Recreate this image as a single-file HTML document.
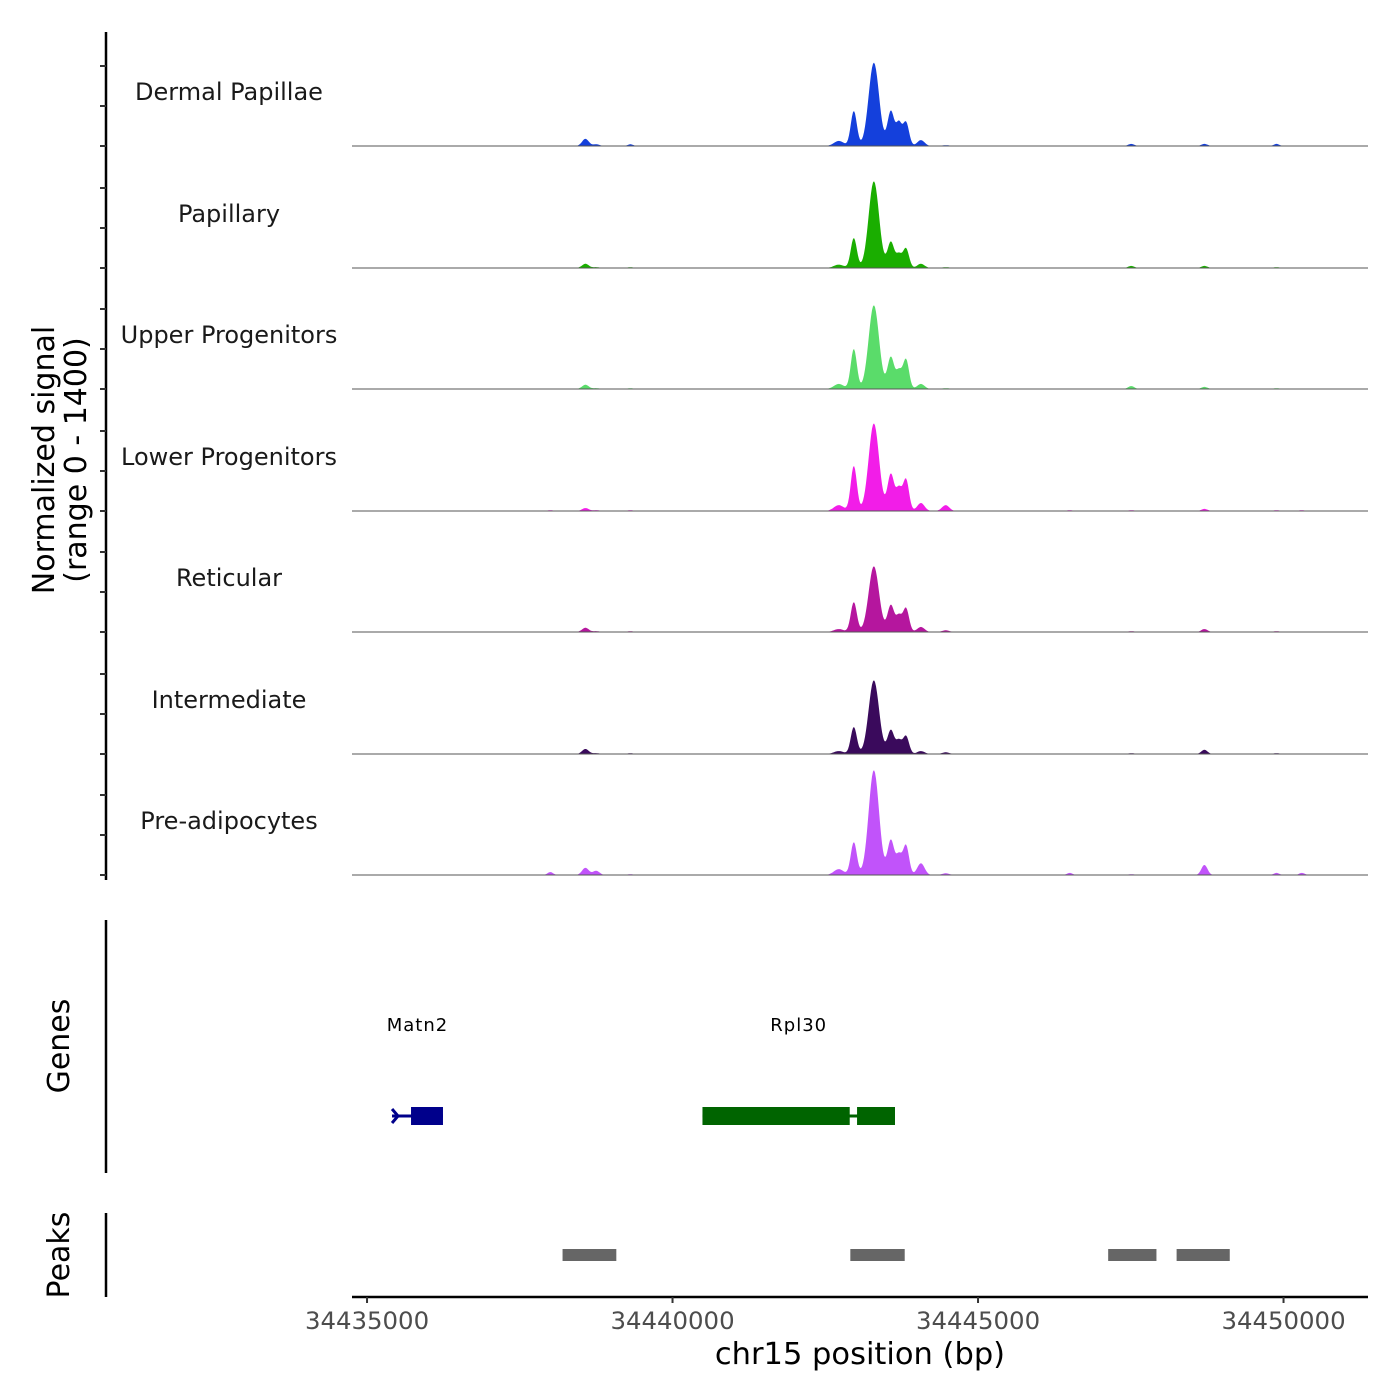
<!DOCTYPE html>
<html><head><meta charset="utf-8"><style>
body{margin:0;background:#fff}
svg{display:block;font-family:"DejaVu Sans","Liberation Sans",sans-serif}
</style></head><body>
<svg id="chart" width="1400" height="1400" viewBox="0 0 1400 1400" xmlns="http://www.w3.org/2000/svg">
<g id="tracks"></g>
<g id="axes"></g>
<text transform="translate(54,460) rotate(-90)" text-anchor="middle" font-size="30" fill="#000">Normalized signal</text>
<text transform="translate(86,460) rotate(-90)" text-anchor="middle" font-size="30" fill="#000">(range 0 - 1400)</text>
<text transform="translate(69,1046) rotate(-90)" text-anchor="middle" font-size="30" fill="#000">Genes</text>
<text transform="translate(69,1255) rotate(-90)" text-anchor="middle" font-size="30" fill="#000">Peaks</text>
<text x="860" y="1364" text-anchor="middle" font-size="30.5" fill="#000">chr15 position (bp)</text>
<g id="genes"></g>
<g id="peaks"></g>
</svg>
<script>
const trackNames = ["Dermal Papillae","Papillary","Upper Progenitors","Lower Progenitors","Reticular","Intermediate","Pre-adipocytes"];
const trackColors = ["#1440dc","#1aae00","#5adc6a","#f21de8","#b5169e","#3a0a5c","#c153fa"];
const peakPositions = [34438574,34438750,34439311,34442721,34442967,34443295,34443574,34443705,34443820,34444065,34444470,34447508,34448705,34449885,34438000,34446500,34450300];
const peakWidths = [55,55,45,80,50,85,55,45,50,60,60,50,50,45,45,45,45];
const signalDP = [85,20,20,60,415,990,415,260,285,70,10,25,25,25,5,5,5];
const signalPap = [50,10,10,40,355,1030,310,150,235,50,10,25,25,10,5,5,5];
const signalUp = [50,10,10,60,475,995,380,200,355,60,10,35,25,10,5,5,5];
const signalLow = [35,10,10,70,535,1040,440,250,380,95,70,10,25,10,10,10,10];
const signalRet = [50,10,10,35,355,780,320,180,285,60,20,10,35,10,5,5,5];
const signalInt = [60,10,10,35,320,875,285,150,215,35,20,10,50,10,5,5,5];
const signalPre = [85,50,10,70,390,1245,415,220,355,140,20,10,120,25,35,25,25];
const trackSignals = [signalDP,signalPap,signalUp,signalLow,signalRet,signalInt,signalPre];
const xTicks = [34435000,34440000,34445000,34450000];
const geneNames = ["Matn2","Rpl30"];
const geneStarts = [34435409,34440490];
const geneEnds = [34436243,34443641];
const geneColors = ["#00008b","#006400"];
const exonStarts = [[34435720],[34440490,34443020]];
const exonEnds = [[34436243],[34442900,34443641]];
const peakStarts = [34438200,34442910,34447130,34448250];
const peakEnds = [34439080,34443800,34447920,34449120];

const NS="http://www.w3.org/2000/svg";
const X0=352,X1=1368,BP0=34434754,PXPERBP=0.0611;
const xs=bp=>X0+(bp-BP0)*PXPERBP;
const baselines=[146,268,389,511,632,754,875];
const yScale=v=>v/1400*118;
function mk(tag,attrs,parent){const e=document.createElementNS(NS,tag);for(const k in attrs)e.setAttribute(k,attrs[k]);parent.appendChild(e);return e;}
const tracks=document.getElementById('tracks');
trackNames.forEach((name,i)=>{
  const base=baselines[i];const sig=trackSignals[i];
  let d=`M${X0},${base}`;
  for(let px=X0;px<=X1;px++){
    const bp=BP0+(px-X0)/PXPERBP;let v=0;
    for(let k=0;k<peakPositions.length;k++){const z=(bp-peakPositions[k])/peakWidths[k];v+=sig[k]*Math.exp(-0.5*z*z);}
    d+=` L${px},${(base-yScale(v)).toFixed(1)}`;
  }
  d+=` L${X1},${base} Z`;
  const p=mk('path',{d:d,fill:trackColors[i]},tracks);
  
  
  const l=mk('line',{x1:X0,x2:X1,y1:base,y2:base,stroke:'#555','stroke-width':1},tracks);
  
  
  const t=mk('text',{x:229,y:base-46,'text-anchor':'middle','font-size':24,fill:'#1a1a1a'},tracks);
  t.textContent=name;
  
  
});
const axes=document.getElementById('axes');
[[32,880],[920,1173],[1213,1297]].forEach(s=>{
  const l=mk('line',{x1:106,x2:106,y1:s[0],y2:s[1],stroke:'#000','stroke-width':2.5},axes);
  
  
});
for(let i=0;i<7;i++){const b=baselines[i];[0,1,2].forEach(j=>{
  const y=b-j*40;
  const t=mk('line',{x1:100,x2:106,y1:y,y2:y,stroke:'#333','stroke-width':2},axes);
  
  
});}
const xa=mk('line',{x1:X0,x2:X1,y1:1297,y2:1297,stroke:'#000','stroke-width':2.5},axes);


xTicks.forEach(v=>{
  const x=xs(v);
  const t=mk('line',{x1:x,x2:x,y1:1297,y2:1303,stroke:'#333','stroke-width':2},axes);
  
  
  const tx=mk('text',{x:x,y:1329,'text-anchor':'middle','font-size':24.4,fill:'#4d4d4d'},axes);
  tx.textContent=v;
  
  
});
const genes=document.getElementById('genes');
geneNames.forEach((g,i)=>{
  const x1=xs(geneStarts[i]),x2=xs(geneEnds[i]);
  const ln=mk('line',{x1:x1,x2:x2,y1:1116,y2:1116,stroke:geneColors[i],'stroke-width':3},genes);
  
  
  exonStarts[i].forEach((s,k)=>{
    const a=xs(s),b=xs(exonEnds[i][k]);
    const r=mk('rect',{x:a,y:1107,width:b-a,height:18,fill:geneColors[i]},genes);
    
    
  });
  const t=mk('text',{x:(x1+x2)/2,y:1031,'text-anchor':'middle','font-size':18,'letter-spacing':1,fill:'#000'},genes);
  t.textContent=g;
  
  
});
const ch=mk('path',{d:`M${xs(geneStarts[0])},1109 L${xs(geneStarts[0])+6},1116 L${xs(geneStarts[0])},1123`,stroke:geneColors[0],'stroke-width':3,fill:'none'},genes);


const peaks=document.getElementById('peaks');
peakStarts.forEach((s,i)=>{
  const a=xs(s),b=xs(peakEnds[i]);
  const r=mk('rect',{x:a,y:1249,width:b-a,height:12,fill:'#666'},peaks);
  
  
});
</script>
</body></html>
